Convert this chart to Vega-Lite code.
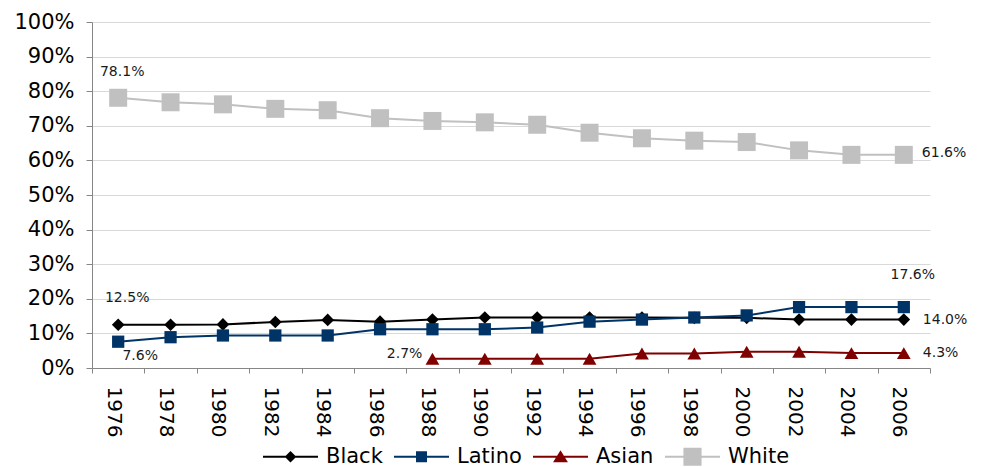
{
  "$schema": "https://vega.github.io/schema/vega-lite/v6.json",
  "width": 838,
  "height": 346,
  "autosize": {"type": "none"},
  "padding": {"left": 92, "top": 22, "right": 53, "bottom": 99},
  "background": "white",
  "config": {"view": {"stroke": null}, "font": "DejaVu Sans"},
  "data": {"values": [
    {"year": 1976, "group": "Black", "value": 0.125},
    {"year": 1978, "group": "Black", "value": 0.125},
    {"year": 1980, "group": "Black", "value": 0.126},
    {"year": 1982, "group": "Black", "value": 0.133},
    {"year": 1984, "group": "Black", "value": 0.139},
    {"year": 1986, "group": "Black", "value": 0.134},
    {"year": 1988, "group": "Black", "value": 0.140},
    {"year": 1990, "group": "Black", "value": 0.146},
    {"year": 1992, "group": "Black", "value": 0.146},
    {"year": 1994, "group": "Black", "value": 0.146},
    {"year": 1996, "group": "Black", "value": 0.146},
    {"year": 1998, "group": "Black", "value": 0.145},
    {"year": 2000, "group": "Black", "value": 0.145},
    {"year": 2002, "group": "Black", "value": 0.140},
    {"year": 2004, "group": "Black", "value": 0.140},
    {"year": 2006, "group": "Black", "value": 0.140},
    {"year": 1976, "group": "Latino", "value": 0.076},
    {"year": 1978, "group": "Latino", "value": 0.089},
    {"year": 1980, "group": "Latino", "value": 0.094},
    {"year": 1982, "group": "Latino", "value": 0.094},
    {"year": 1984, "group": "Latino", "value": 0.094},
    {"year": 1986, "group": "Latino", "value": 0.112},
    {"year": 1988, "group": "Latino", "value": 0.112},
    {"year": 1990, "group": "Latino", "value": 0.112},
    {"year": 1992, "group": "Latino", "value": 0.117},
    {"year": 1994, "group": "Latino", "value": 0.134},
    {"year": 1996, "group": "Latino", "value": 0.140},
    {"year": 1998, "group": "Latino", "value": 0.146},
    {"year": 2000, "group": "Latino", "value": 0.152},
    {"year": 2002, "group": "Latino", "value": 0.176},
    {"year": 2004, "group": "Latino", "value": 0.176},
    {"year": 2006, "group": "Latino", "value": 0.176},
    {"year": 1988, "group": "Asian", "value": 0.027},
    {"year": 1990, "group": "Asian", "value": 0.027},
    {"year": 1992, "group": "Asian", "value": 0.027},
    {"year": 1994, "group": "Asian", "value": 0.027},
    {"year": 1996, "group": "Asian", "value": 0.042},
    {"year": 1998, "group": "Asian", "value": 0.042},
    {"year": 2000, "group": "Asian", "value": 0.047},
    {"year": 2002, "group": "Asian", "value": 0.047},
    {"year": 2004, "group": "Asian", "value": 0.043},
    {"year": 2006, "group": "Asian", "value": 0.043},
    {"year": 1976, "group": "White", "value": 0.781},
    {"year": 1978, "group": "White", "value": 0.768},
    {"year": 1980, "group": "White", "value": 0.762},
    {"year": 1982, "group": "White", "value": 0.749},
    {"year": 1984, "group": "White", "value": 0.745},
    {"year": 1986, "group": "White", "value": 0.722},
    {"year": 1988, "group": "White", "value": 0.714},
    {"year": 1990, "group": "White", "value": 0.710},
    {"year": 1992, "group": "White", "value": 0.703},
    {"year": 1994, "group": "White", "value": 0.680},
    {"year": 1996, "group": "White", "value": 0.664},
    {"year": 1998, "group": "White", "value": 0.657},
    {"year": 2000, "group": "White", "value": 0.653},
    {"year": 2002, "group": "White", "value": 0.629},
    {"year": 2004, "group": "White", "value": 0.616},
    {"year": 2006, "group": "White", "value": 0.616}
  ]},
  "encoding": {
    "x": {
      "field": "year", "type": "ordinal",
      "scale": {"type": "band", "paddingInner": 0, "paddingOuter": 0},
      "axis": {
        "title": null, "labelAngle": 90, "labelFontSize": 20, "labelColor": "#000000",
        "labelPadding": 13, "tickSize": 5, "tickColor": "#868686", "domainColor": "#868686",
        "tickBand": "extent", "grid": false, "labelOffset": -5, "labelOverlap": false
      }
    },
    "y": {
      "field": "value", "type": "quantitative",
      "scale": {"domain": [0, 1], "nice": false},
      "axis": {
        "title": null, "format": ".0%", "values": [0, 0.1, 0.2, 0.3, 0.4, 0.5, 0.6, 0.7, 0.8, 0.9, 1],
        "labelFontSize": 21, "labelColor": "#000000", "labelPadding": 12, "tickSize": 6,
        "tickColor": "#868686", "domainColor": "#868686", "grid": true, "gridColor": "#D9D9D9"
      }
    },
    "color": {
      "field": "group", "type": "nominal",
      "scale": {"domain": ["Black", "Latino", "Asian", "White"], "range": ["#000000", "#003366", "#800000", "#C0C0C0"]},
      "legend": {
        "title": null, "orient": "none", "direction": "horizontal", "legendX": 171, "legendY": 407,
        "labelFontSize": 21, "labelColor": "#000000", "labelFont": "DejaVu Sans", "labelOffset": 8,
        "columnPadding": 11, "symbolSize": 3025, "symbolStrokeWidth": 0, "padding": 0,
        "encode": {"symbols": {"update": {
          "shape": {"signal": "datum.value === 'Black' ? 'M-1,-0.036L1,-0.036L1,0.036L-1,0.036ZM0,-0.21L0.21,0L0,0.21L-0.21,0Z' : datum.value === 'Latino' ? 'M-1,-0.036L1,-0.036L1,0.036L-1,0.036ZM-0.2,-0.2L0.2,-0.2L0.2,0.2L-0.2,0.2Z' : datum.value === 'Asian' ? 'M-1,-0.036L1,-0.036L1,0.036L-1,0.036ZM0,-0.24L0.27,0.2L-0.27,0.2Z' : 'M-1,-0.036L1,-0.036L1,0.036L-1,0.036ZM-0.33,-0.33L0.33,-0.33L0.33,0.33L-0.33,0.33Z'"},
          "fill": {"scale": "color", "field": "value"},
          "stroke": {"value": "transparent"},
          "strokeWidth": {"value": 0},
          "size": {"value": 3025},
          "opacity": {"value": 1},
          "fillOpacity": {"value": 1}
        }}}
      }
    }
  },
  "layer": [
    {"mark": {"type": "line", "strokeWidth": 2}},
    {
      "transform": [{"filter": "datum.group === 'Black'"}],
      "mark": {"type": "point", "filled": true, "opacity": 1, "shape": "diamond", "size": 160}
    },
    {
      "transform": [{"filter": "datum.group === 'Latino'"}],
      "mark": {"type": "point", "filled": true, "opacity": 1, "shape": "square", "size": 150}
    },
    {
      "transform": [{"filter": "datum.group === 'Asian'"}],
      "mark": {"type": "point", "filled": true, "opacity": 1, "shape": "triangle-up", "size": 190}
    },
    {
      "transform": [{"filter": "datum.group === 'White'"}],
      "mark": {"type": "point", "filled": true, "opacity": 1, "shape": "square", "size": 324}
    },
    {
      "transform": [{"filter": "datum.group === 'White' && datum.year === 1976"}],
      "mark": {"type": "text", "dx": 4, "dy": -26, "fontSize": 14, "align": "center", "baseline": "middle"},
      "encoding": {"text": {"field": "value", "type": "quantitative", "format": ".1%"}, "color": {"value": "#1a1a1a"}}
    },
    {
      "transform": [{"filter": "datum.group === 'White' && datum.year === 2006"}],
      "mark": {"type": "text", "dx": 18, "dy": -2, "fontSize": 14, "align": "left", "baseline": "middle"},
      "encoding": {"text": {"field": "value", "type": "quantitative", "format": ".1%"}, "color": {"value": "#1a1a1a"}}
    },
    {
      "transform": [{"filter": "datum.group === 'Black' && datum.year === 1976"}],
      "mark": {"type": "text", "dx": 9, "dy": -27, "fontSize": 14, "align": "center", "baseline": "middle"},
      "encoding": {"text": {"field": "value", "type": "quantitative", "format": ".1%"}, "color": {"value": "#1a1a1a"}}
    },
    {
      "transform": [{"filter": "datum.group === 'Latino' && datum.year === 1976"}],
      "mark": {"type": "text", "dx": 22, "dy": 14, "fontSize": 14, "align": "center", "baseline": "middle"},
      "encoding": {"text": {"field": "value", "type": "quantitative", "format": ".1%"}, "color": {"value": "#1a1a1a"}}
    },
    {
      "transform": [{"filter": "datum.group === 'Asian' && datum.year === 1988"}],
      "mark": {"type": "text", "dx": -10, "dy": -5, "fontSize": 14, "align": "right", "baseline": "middle"},
      "encoding": {"text": {"field": "value", "type": "quantitative", "format": ".1%"}, "color": {"value": "#1a1a1a"}}
    },
    {
      "transform": [{"filter": "datum.group === 'Latino' && datum.year === 2006"}],
      "mark": {"type": "text", "dx": 9, "dy": -32, "fontSize": 14, "align": "center", "baseline": "middle"},
      "encoding": {"text": {"field": "value", "type": "quantitative", "format": ".1%"}, "color": {"value": "#1a1a1a"}}
    },
    {
      "transform": [{"filter": "(datum.group === 'Black' || datum.group === 'Asian') && datum.year === 2006"}],
      "mark": {"type": "text", "dx": 19, "dy": 0, "fontSize": 14, "align": "left", "baseline": "middle"},
      "encoding": {"text": {"field": "value", "type": "quantitative", "format": ".1%"}, "color": {"value": "#1a1a1a"}}
    }
  ]
}
